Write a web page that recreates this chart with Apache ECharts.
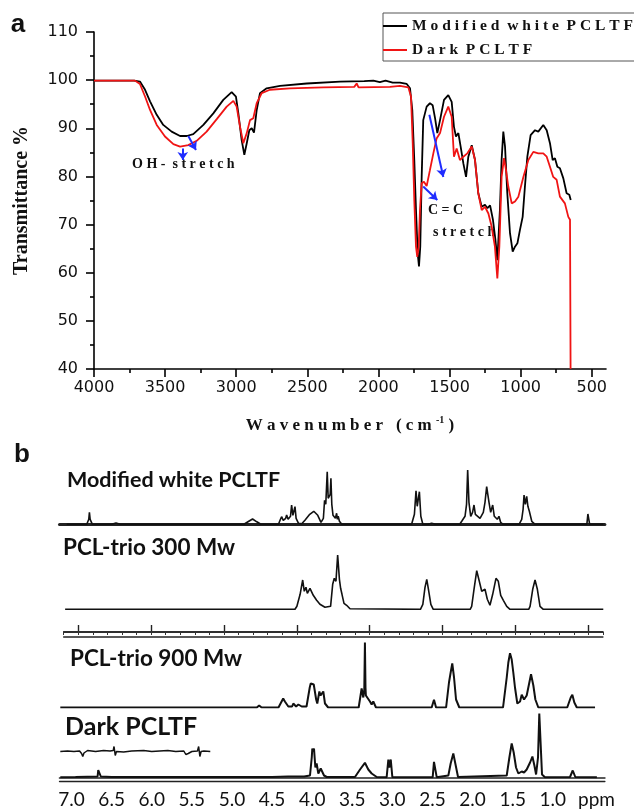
<!DOCTYPE html>
<html>
<head>
<meta charset="utf-8">
<script src="https://cdn.jsdelivr.net/npm/echarts@6/dist/echarts.min.js"></script>
<style>
  html, body { margin: 0; padding: 0; background: #fff; }
  #main { width: 634px; height: 811px; }
</style>
</head>
<body>
<div id="main"></div>
<script>
// ---- panel a : FTIR, [wavenumber, transmittance %] ----
const ftirWhite = [
  [4000,99.9],[3850,99.9],[3718,99.9],[3677,99.7],[3641,98.0],[3606,95.6],[3559,92.8],[3513,90.7],
  [3454,89.3],[3395,88.4],[3348,88.4],[3302,88.8],[3231,90.7],[3161,93.1],[3091,95.9],[3032,97.5],
  [3002,96.6],[2985,93.1],[2962,87.6],[2943,84.5],[2926,86.9],[2908,89.6],[2891,90.0],[2875,89.1],
  [2856,93.8],[2833,97.3],[2786,98.3],[2692,98.8],[2504,99.3],[2270,99.7],[2100,99.8],[2036,99.9],
  [1990,99.6],[1950,99.9],[1900,99.5],[1849,99.5],[1801,99.2],[1778,98.3],[1762,93.8],[1748,83.4],
  [1736,73.0],[1724,64.0],[1715,61.3],[1706,65.4],[1696,79.9],[1685,91.7],[1661,94.5],[1638,95.2],
  [1619,94.8],[1602,92.1],[1586,89.0],[1567,91.7],[1539,95.9],[1509,96.9],[1485,95.5],[1469,90.3],
  [1455,88.3],[1438,89.0],[1422,86.2],[1403,82.7],[1384,79.9],[1368,84.1],[1344,86.5],[1321,83.4],
  [1298,76.5],[1274,73.7],[1251,74.1],[1234,73.4],[1215,74.0],[1195,71.0],[1178,67.0],[1164,62.6],
  [1146,73.0],[1134,83.4],[1122,89.3],[1110,86.2],[1094,76.5],[1075,68.2],[1056,64.4],[1040,65.4],
  [1023,66.1],[1005,68.9],[986,71.6],[970,77.9],[953,84.1],[930,88.6],[899,89.6],[876,89.3],
  [841,90.7],[817,89.6],[794,86.9],[775,83.4],[759,83.8],[742,82.0],[724,81.7],[700,79.6],
  [677,76.5],[658,76.2],[648,75.1]
];
const ftirDark = [
  [4000,99.9],[3850,99.9],[3712,99.9],[3677,99.2],[3641,96.6],[3606,93.8],[3559,90.7],[3501,88.3],
  [3442,86.7],[3395,86.2],[3337,86.5],[3278,87.4],[3208,89.3],[3137,91.9],[3067,94.5],[3020,95.7],
  [2997,94.5],[2973,90.3],[2950,86.9],[2926,89.0],[2903,91.7],[2880,92.1],[2856,95.2],[2821,97.3],
  [2763,98.0],[2622,98.3],[2388,98.5],[2170,98.6],[2153,99.3],[2140,98.5],[1919,98.6],[1849,98.8],
  [1790,98.5],[1771,96.6],[1759,86.9],[1748,75.1],[1736,65.4],[1727,63.3],[1717,65.4],[1708,73.0],
  [1696,78.6],[1680,78.9],[1661,78.0],[1638,81.3],[1614,84.8],[1591,87.9],[1567,89.0],[1539,92.4],
  [1509,94.5],[1485,92.4],[1469,84.1],[1450,85.8],[1427,83.4],[1403,84.1],[1375,84.8],[1344,86.2],
  [1321,83.4],[1298,76.5],[1274,73.0],[1251,73.7],[1227,72.3],[1204,69.6],[1181,65.4],[1164,58.8],
  [1150,65.4],[1134,79.9],[1117,83.8],[1103,81.3],[1087,77.9],[1063,74.4],[1040,74.8],[1016,75.8],
  [981,79.9],[946,83.4],[911,85.1],[876,84.8],[841,84.8],[817,84.1],[794,82.0],[771,79.9],
  [747,79.3],[724,75.8],[689,74.4],[665,71.6],[653,71.0],[649,40]
];
// arrows: [from, to] in [wavenumber, %]
const ftirArrows = [
  [[3376,85.8],[3376,83.4]],
  [[3337,88.4],[3283,85.5]],
  [[1642,92.8],[1544,79.9]],
  [[1685,77.9],[1586,75.1]]
];
const ftirTicks = [4000,3500,3000,2500,2000,1500,1000,500];
const ftirMinor = [3750,3250,2750,2250,1750,1250,750];

// ---- panel b : 1H NMR, [ppm, intensity a.u.] ----
const nmrWhite = [
  [7.06,0],[6.81,0],[6.785,5],[6.777,12],[6.768,5],[6.74,0],[6.50,0],[6.446,1.2],[6.39,0],
  [4.85,0],[4.80,2.5],[4.743,5.3],[4.69,2.5],[4.64,0],
  [4.42,0],[4.395,5],[4.381,7.6],[4.36,4],[4.33,6],[4.318,9.3],[4.30,5],[4.27,8],[4.256,19.3],[4.24,9],
  [4.225,11],[4.214,17.6],[4.20,6],[4.17,1],[4.13,0.5],[4.09,4],[4.03,10],[3.98,13],[3.93,9],[3.89,2],
  [3.86,6],[3.845,24],[3.83,20],[3.812,52.6],[3.80,26],[3.785,24],[3.775,30],[3.766,46],[3.755,20],
  [3.74,9],[3.725,10],[3.71,6],[3.695,11],[3.685,5],[3.675,8],[3.66,3],[3.63,0],
  [2.76,0],[2.725,10],[2.705,33.6],[2.69,18],[2.663,32.6],[2.645,8],[2.62,0],[2.56,0],[2.51,1],[2.46,0],
  [2.16,0],[2.135,3],[2.094,8],[2.075,20],[2.061,54.3],[2.045,22],[2.023,8],[2.00,12],[1.982,19.3],
  [1.965,10],[1.948,8],[1.907,6],[1.866,12],[1.845,22],[1.824,37.6],[1.81,30],[1.795,22],[1.774,12],
  [1.749,19.3],[1.729,8],[1.708,10],[1.692,5],[1.671,8],[1.65,2],[1.62,0],
  [1.42,0],[1.387,5],[1.37,15],[1.358,29.3],[1.342,20],[1.325,28],[1.31,18],[1.292,13],[1.262,3],[1.22,0],
  [0.575,0],[0.562,10.3],[0.552,10.3],[0.54,0],[0.37,0]
];
const nmr300 = [
  [7.08,0],[4.214,0],[4.19,3],[4.15,15],[4.118,29.3],[4.098,18],[4.077,22],[4.06,16],[4.027,21],
  [3.986,14],[3.944,9],[3.903,5],[3.84,2],[3.77,3],[3.744,25],[3.724,31],[3.703,28],[3.682,54.3],
  [3.66,30],[3.645,21],[3.628,15],[3.603,6],[3.57,4],[3.528,0.5],
  [2.65,0],[2.62,5],[2.593,22],[2.571,30],[2.55,20],[2.52,5],[2.49,0],
  [2.03,0],[2.011,3],[1.982,20],[1.948,38.6],[1.916,28],[1.886,18],[1.866,17.6],[1.845,20],[1.816,10],
  [1.783,4],[1.749,15],[1.708,31],[1.679,28],[1.649,14],[1.616,9],[1.574,3],[1.533,0],
  [1.30,0],[1.283,3],[1.25,20],[1.221,29.3],[1.192,20],[1.159,3],[1.118,0],[0.37,0]
];
const nmr900 = [
  [7.14,0],[4.69,0],[4.661,2],[4.63,0],[4.42,0],[4.40,1],[4.361,9],[4.34,6],[4.326,8],[4.297,1],
  [4.25,1],[4.235,4],[4.20,1],[4.172,3],[4.13,1],[4.07,1],[4.048,3],[4.03,20],[4.018,24],[4.00,22],
  [3.98,23],[3.965,24],[3.95,8],[3.936,4],[3.91,16],[3.895,12],[3.882,14],[3.861,16],[3.84,4],[3.80,0],
  [3.42,0],[3.403,2],[3.383,19],[3.362,10],[3.35,18],[3.342,65],[3.335,20],[3.33,12],[3.307,10],
  [3.279,6],[3.258,3],[3.238,6],[3.204,0],[2.51,0],[2.481,7.7],[2.455,0],
  [2.33,0],[2.322,2],[2.294,25],[2.273,35],[2.253,44],[2.231,30],[2.206,8],[2.165,0],
  [1.62,0],[1.608,2],[1.574,30],[1.554,45],[1.533,54.3],[1.512,48],[1.492,35],[1.471,20],[1.442,4],
  [1.408,6],[1.387,12.7],[1.358,8],[1.325,12],[1.292,25],[1.271,33.3],[1.242,22],[1.217,8],[1.18,0],
  [0.82,0],[0.806,1],[0.776,10],[0.756,12.7],[0.731,5],[0.70,0],[0.473,0]
];
const nmrDark = [
  [7.14,0.3],[6.95,0.5],[6.80,0.8],[6.675,1],[6.667,7.5],[6.645,7.5],[6.635,1],[6.50,0.6],[6.2,0.4],
  [5.5,0.4],[4.8,0.5],[4.5,0.6],[4.3,1],[4.10,1],[4.027,2],[4.005,20],[3.998,29],[3.985,26],[3.977,29],
  [3.96,10],[3.944,14],[3.923,4],[3.893,9],[3.873,8],[3.852,2],[3.818,0.5],
  [3.466,0.5],[3.403,8],[3.342,14.7],[3.30,8],[3.258,4],[3.195,0.5],
  [3.071,0.3],[3.05,18],[3.038,10],[3.02,18],[3.00,0.3],[2.497,0.3],[2.481,15.7],[2.464,15],[2.447,0.3],
  [2.302,2],[2.273,14],[2.24,24],[2.215,14],[2.181,0.5],
  [1.574,2],[1.541,20],[1.512,34],[1.487,25],[1.458,10],[1.429,4],[1.387,6],[1.358,5],[1.325,8],
  [1.283,15],[1.254,21],[1.229,12],[1.208,3],[1.184,20],[1.168,64],[1.15,64],[1.134,3],[1.097,0.3],
  [0.785,0.5],[0.751,7],[0.719,0.5],[0.45,0.3]
];
// expanded olefinic region drawn above the dark PCLTF trace
const nmrDarkInset = [
  [7.14,26],[7.05,26.5],[6.97,26],[6.90,26.5],[6.875,24],[6.86,21],[6.845,24.5],[6.80,27],[6.70,26],
  [6.60,27],[6.52,26.5],[6.48,27],[6.47,31],[6.455,22],[6.44,26],[6.42,26.5],[6.35,25.5],[6.25,26.5],
  [6.10,27],[6.0,26],[5.9,26.5],[5.8,27],[5.7,26],[5.6,26.5],[5.575,23],[5.56,21],[5.545,24],[5.50,26],
  [5.43,26.5],[5.415,31],[5.40,21],[5.385,26],[5.35,26.5],[5.27,26]
];
const ppmTicks = [7.0,6.5,6.0,5.5,5.0,4.5,4.0,3.5,3.0,2.5,2.0,1.5,1.0];
const rulerTicks = [0,1,2,3,4,5,6,7];

const serif = 'Liberation Serif';
const spaced = s => s.split(' ').map(w => w.split('').join(' ')).join('  ');

const nmrX = { type: 'value', min: 0.35, max: 7.15, inverse: true, splitLine: { show: false } };
const nmrGrid = top => ({ left: 59.5, width: 545.4, top: top, height: 70 });
const hiddenY = i => ({ gridIndex: i, type: 'value', min: 0, max: 70, show: false });
const nmrLine = (name, data, xi, yi, w) => ({
  name: name, type: 'line', data: data, xAxisIndex: xi, yAxisIndex: yi,
  symbol: 'none', color: '#111', lineStyle: { width: w, color: '#111' }, animation: false
});
const lineOnly = (gi, pos, w, extra) => Object.assign({
  gridIndex: gi, type: 'value', position: pos, min: 0.35, max: 7.15, inverse: true,
  axisLine: { show: true, lineStyle: { color: '#222', width: w } },
  axisTick: { show: false }, axisLabel: { show: false }, splitLine: { show: false }
}, extra || {});
const ruler = (pos, extra) => lineOnly(5, pos, 1.5, Object.assign({ min: -0.2, max: 7.2 }, extra || {}));

const chart = echarts.init(document.getElementById('main'));
chart.setOption({
  backgroundColor: '#fff',
  animation: false,
  legend: {
    data: ['Modified white PCLTF', 'Dark PCLTF'],
    orient: 'vertical', left: 383, top: 13,
    icon: 'rect', itemWidth: 24, itemHeight: 2, itemGap: 8,
    padding: [5, 30, 3, 0],
    borderColor: '#555', borderWidth: 1,
    formatter: spaced,
    textStyle: { fontFamily: serif, fontWeight: 'bold', fontSize: 15.5, lineHeight: 14, color: '#111' }
  },
  grid: [
    { left: 94, top: 32, width: 512, height: 337 },
    nmrGrid(454.3), nmrGrid(539.3), nmrGrid(637.5), nmrGrid(707.5),
    { left: 63.7, width: 539.2, top: 625, height: 7 }
  ],
  xAxis: [
    {
      gridIndex: 0, type: 'value', position: 'bottom', min: 400, max: 4000, inverse: true,
      axisLine: { show: true, lineStyle: { color: '#000', width: 1.6 } },
      axisTick: { show: true, customValues: ftirTicks, length: 8, lineStyle: { color: '#000', width: 1.6 } },
      axisLabel: { customValues: ftirTicks, formatter: v => String(v), fontFamily: 'DejaVu Sans', fontSize: 16, color: '#111', margin: 11 },
      splitLine: { show: false },
      name: 'W a v e n u m b e r   ( c m {sup|-1} )',
      nameLocation: 'middle', nameGap: 46,
      nameTextStyle: {
        fontFamily: serif, fontWeight: 'bold', fontSize: 17, color: '#111',
        rich: { sup: { fontFamily: serif, fontWeight: 'bold', fontSize: 10, verticalAlign: 'top', padding: [0, 0, 12, 0] } }
      }
    },
    {
      gridIndex: 0, type: 'value', position: 'bottom', min: 400, max: 4000, inverse: true,
      axisLine: { show: false },
      axisTick: { show: true, customValues: ftirMinor, length: 4, lineStyle: { color: '#000', width: 1.6 } },
      axisLabel: { show: false }, splitLine: { show: false }
    },
    lineOnly(1, 'top', 3),
    Object.assign({ gridIndex: 2, show: false }, nmrX),
    Object.assign({ gridIndex: 3, show: false }, nmrX),
    lineOnly(4, 'bottom', 1.6, {
      axisLabel: {
        show: true, customValues: ppmTicks, formatter: v => v.toFixed(1),
        fontFamily: 'Lato', fontSize: 19, color: '#111', margin: 13
      }
    }),
    lineOnly(4, 'bottom', 1.3, { offset: 4 }),
    // ruler of the PCL-trio 300 spectrum: line + short ticks every 0.2
    ruler('top', {
      interval: 0.2,
      axisTick: { show: true, inside: true, length: 3, lineStyle: { color: '#333', width: 1 } }
    }),
    // longer ticks at whole units
    ruler('top', {
      axisLine: { show: false },
      axisTick: { show: true, inside: true, customValues: rulerTicks, length: 6, lineStyle: { color: '#222', width: 1.4 } }
    }),
    ruler('bottom'),
    ruler('bottom', { offset: 5 })
  ],
  yAxis: [
    {
      gridIndex: 0, type: 'value', min: 40, max: 110, interval: 10,
      axisLine: { show: true, lineStyle: { color: '#000', width: 1.6 } },
      axisTick: { show: true, length: 8, lineStyle: { color: '#000', width: 1.6 } },
      minorTick: { show: true, splitNumber: 2, length: 4, lineStyle: { color: '#000', width: 1.6 } },
      axisLabel: { fontFamily: 'DejaVu Sans', fontSize: 16, color: '#111', margin: 16 },
      splitLine: { show: false },
      name: 'Transmittance %', nameLocation: 'middle', nameGap: 62,
      nameTextStyle: { fontFamily: serif, fontWeight: 'bold', fontSize: 20, color: '#111' }
    },
    hiddenY(1), hiddenY(2), hiddenY(3), hiddenY(4), hiddenY(5)
  ],
  series: [
    {
      name: 'Modified white PCLTF', type: 'line', data: ftirWhite, xAxisIndex: 0, yAxisIndex: 0,
      symbol: 'none', color: '#000', lineStyle: { width: 1.8, color: '#000' }
    },
    {
      name: 'Dark PCLTF', type: 'line', data: ftirDark, xAxisIndex: 0, yAxisIndex: 0,
      symbol: 'none', color: '#f01414', lineStyle: { width: 1.8, color: '#f01414' },
      markLine: {
        silent: true, symbol: ['none', 'arrow'], symbolSize: 8,
        label: { show: false },
        lineStyle: { color: '#1f2cff', width: 2, type: 'solid' },
        data: ftirArrows.map(a => [{ coord: a[0] }, { coord: a[1] }])
      }
    },
    nmrLine('nmr white', nmrWhite, 2, 1, 1.6),
    nmrLine('nmr 300', nmr300, 3, 2, 1.6),
    nmrLine('nmr 900', nmr900, 4, 3, 2),
    nmrLine('nmr dark', nmrDark, 5, 4, 2),
    nmrLine('nmr dark inset', nmrDarkInset, 5, 4, 1.5)
  ],
  graphic: [
    { type: 'text', x: 18, y: 25, style: { text: 'a', font: 'bold 26px "Liberation Sans"', fill: '#111', align: 'center', verticalAlign: 'middle' } },
    { type: 'text', x: 22, y: 455, style: { text: 'b', font: 'bold 26px "Liberation Sans"', fill: '#111', align: 'center', verticalAlign: 'middle' } },
    { type: 'text', x: 132, y: 164, style: { text: 'O H -  s t r e t c h', font: 'bold 14px "Liberation Serif"', fill: '#111', verticalAlign: 'middle' } },
    { type: 'text', x: 428, y: 210, style: { text: 'C = C', font: 'bold 14px "Liberation Serif"', fill: '#111', verticalAlign: 'middle' } },
    { type: 'text', x: 433, y: 232, style: { text: 's t r e t c h', font: 'bold 14px "Liberation Serif"', fill: '#111', verticalAlign: 'middle' } },
    { type: 'text', x: 67, y: 480, style: { text: 'Modified white PCLTF', font: 'bold 21.5px Lato', fill: '#111', verticalAlign: 'middle' } },
    { type: 'text', x: 63, y: 548, style: { text: 'PCL-trio 300 Mw', font: 'bold 22.5px Lato', fill: '#111', verticalAlign: 'middle' } },
    { type: 'text', x: 70, y: 659, style: { text: 'PCL-trio 900 Mw', font: 'bold 22.5px Lato', fill: '#111', verticalAlign: 'middle' } },
    { type: 'text', x: 65, y: 727, style: { text: 'Dark PCLTF', font: 'bold 25px Lato', fill: '#111', verticalAlign: 'middle' } },
    { type: 'text', x: 578, y: 800, style: { text: 'ppm', font: '19px Lato', fill: '#111', verticalAlign: 'middle' } }
  ]
});
</script>
</body>
</html>
